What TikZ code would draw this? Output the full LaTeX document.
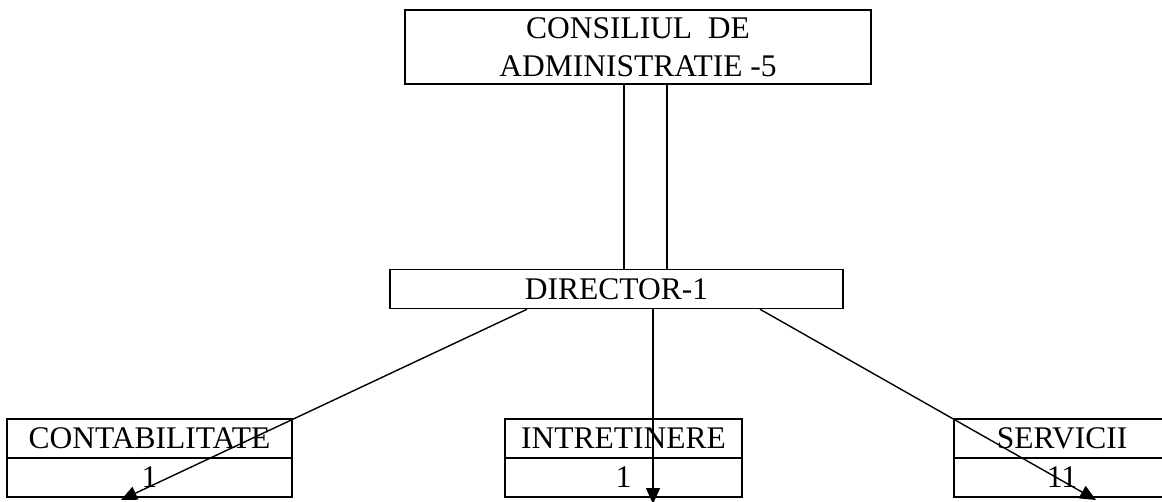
\documentclass[tikz,border=0pt]{standalone}
\usepackage{fontspec}
\setmainfont{Liberation Serif}
\usetikzlibrary{arrows.meta}

\tikzset{
	cell/.style={draw,line width=0.75pt,inner sep=0pt,minimum height=19.5pt},
	link/.style={line width=0.7pt},
	every node/.style={font=\fontsize{15.75}{18.9}\selectfont}
}

\begin{document}
\begin{tikzpicture}[x=0.5pt,y=-0.5pt]
		\useasboundingbox (0,0) rectangle (1162,502);
		
		% the top box and the director
		\node[cell,align=center,minimum width=233pt,minimum height=37pt] (consiliu) at (638,47) {CONSILIUL\ \ DE\\ADMINISTRATIE -5};
		\node[cell,minimum width=226.5pt] (director) at (616.5,289) {DIRECTOR-1};
		
		% the two vertical lines between them
		\coordinate (v1) at ([xshift=-7pt]consiliu.south);
		\coordinate (v2) at ([xshift=14.5pt]consiliu.south);
		\draw[link] (v1) -- (v1|-director.north);
		\draw[link] (v2) -- (v2|-director.north);
		
		% the boxes at the bottom
		\foreach \nume/\x/\w/\titlu/\nr in {contab/149.5/142.5/CONTABILITATE/1,intret/623.5/118.5/INTRETINERE/1,serv/1062/108/SERVICII/11}
		{
			\node[cell,minimum width=\w pt] (\nume) at (\x,438.5) {\titlu};
			\node[cell,minimum width=\w pt] (\nume-nr) at (\x,477.5) {\nr};
		}
		
		% the arrows from the director
		\coordinate (t1) at (121,500);
		\coordinate (t2) at (653,504);
		\coordinate (t3) at (1096,500);
		\draw[link,-{Triangle[length=8pt,width=7pt]}] ([xshift=-44.75pt]director.south) -- (t1);
		\draw[link,-{Triangle[length=8pt,width=7pt]}] ([xshift=18.25pt]director.south) -- (t2);
		\draw[link,-{Triangle[length=8pt,width=7pt]}] ([xshift=71.75pt]director.south) -- (t3);
	\end{tikzpicture}
\end{document}
